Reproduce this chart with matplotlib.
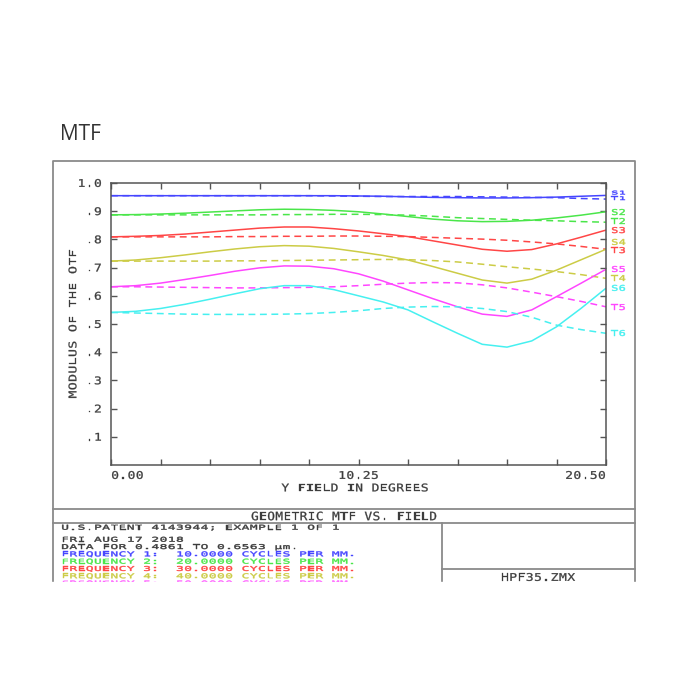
import matplotlib
matplotlib.use('Agg')
import matplotlib.pyplot as plt
from matplotlib.textpath import TextPath
from matplotlib.patches import PathPatch
from matplotlib.font_manager import FontProperties
from matplotlib.transforms import Affine2D

# field points (degrees)
field = [0.0, 1.025, 2.05, 3.075, 4.1, 5.125, 6.15, 7.175, 8.2, 9.225, 10.25,
         11.275, 12.3, 13.325, 14.35, 15.375, 16.4, 17.425, 18.45, 19.475, 20.5]

# sagittal (solid) and tangential (dashed) MTF
s1 = [0.955, 0.955, 0.955, 0.955, 0.955, 0.955, 0.955, 0.955, 0.955, 0.955, 0.954,
      0.953, 0.951, 0.949, 0.948, 0.947, 0.947, 0.948, 0.950, 0.953, 0.956]
t1 = [0.955, 0.955, 0.955, 0.955, 0.955, 0.955, 0.955, 0.955, 0.955, 0.954, 0.953,
      0.952, 0.952, 0.952, 0.952, 0.951, 0.950, 0.949, 0.948, 0.945, 0.943]
s2 = [0.887, 0.888, 0.890, 0.893, 0.897, 0.901, 0.905, 0.907, 0.906, 0.903, 0.898,
      0.890, 0.881, 0.872, 0.866, 0.863, 0.864, 0.868, 0.876, 0.886, 0.898]
t2 = [0.887, 0.887, 0.887, 0.887, 0.887, 0.887, 0.887, 0.888, 0.888, 0.889, 0.889,
      0.888, 0.886, 0.882, 0.877, 0.874, 0.871, 0.868, 0.866, 0.863, 0.861]
s3 = [0.809, 0.811, 0.814, 0.819, 0.826, 0.833, 0.840, 0.844, 0.844, 0.838, 0.830,
      0.820, 0.810, 0.795, 0.780, 0.765, 0.758, 0.764, 0.784, 0.808, 0.833]
t3 = [0.809, 0.809, 0.809, 0.809, 0.809, 0.810, 0.810, 0.811, 0.811, 0.812, 0.812,
      0.811, 0.810, 0.807, 0.804, 0.801, 0.797, 0.791, 0.784, 0.775, 0.765]
s4 = [0.723, 0.727, 0.735, 0.745, 0.756, 0.766, 0.774, 0.778, 0.776, 0.768, 0.756,
      0.743, 0.727, 0.704, 0.680, 0.656, 0.645, 0.659, 0.691, 0.728, 0.765]
t4 = [0.723, 0.723, 0.723, 0.723, 0.723, 0.724, 0.724, 0.725, 0.726, 0.727, 0.728,
      0.729, 0.728, 0.725, 0.720, 0.712, 0.703, 0.695, 0.686, 0.675, 0.662]
s5 = [0.632, 0.636, 0.645, 0.658, 0.672, 0.687, 0.699, 0.706, 0.705, 0.696, 0.678,
      0.652, 0.621, 0.590, 0.561, 0.535, 0.527, 0.550, 0.597, 0.645, 0.694]
t5 = [0.632, 0.632, 0.631, 0.630, 0.629, 0.628, 0.628, 0.629, 0.630, 0.632, 0.636,
      0.641, 0.645, 0.647, 0.646, 0.639, 0.628, 0.613, 0.597, 0.580, 0.561]
s6 = [0.541, 0.545, 0.555, 0.570, 0.588, 0.607, 0.625, 0.636, 0.636, 0.622, 0.600,
      0.578, 0.550, 0.508, 0.467, 0.428, 0.418, 0.440, 0.490, 0.556, 0.627]
t6 = [0.541, 0.539, 0.537, 0.535, 0.534, 0.534, 0.534, 0.535, 0.537, 0.541, 0.547,
      0.555, 0.560, 0.562, 0.561, 0.555, 0.544, 0.524, 0.496, 0.480, 0.467]

sag = [s1, s2, s3, s4, s5, s6]
tan = [t1, t2, t3, t4, t5, t6]
colors = ['#4646ff', '#4ae64a', '#ff4646', '#cccc46', '#ff46ff', '#46f0f0']

end_labels = ['S1', 'T1', 'S2', 'T2', 'S3', 'S4', 'T3', 'S5', 'T4', 'S6', 'T5', 'T6']
end_label_y = [0.966, 0.946, 0.897, 0.865, 0.833, 0.791, 0.762, 0.695, 0.663, 0.628, 0.560, 0.468]
end_label_col = [0, 0, 1, 1, 2, 3, 2, 4, 3, 5, 4, 5]

yticks = [0.1, 0.2, 0.3, 0.4, 0.5, 0.6, 0.7, 0.8, 0.9, 1.0]
ytick_labels = ['.1', '.2', '.3', '.4', '.5', '.6', '.7', '.8', '.9', '1.0']
xticks = [0.0, 10.25, 20.5]
xtick_labels = ['0.00', '10.25', '20.50']

info_head = 'U.S.PATENT 4143944; EXAMPLE 1 OF 1'
info_lines = ['FRI AUG 17 2018',
              'DATA FOR 0.4861 TO 0.6563 µm.',
              'FREQUENCY 1:  10.0000 CYCLES PER MM.',
              'FREQUENCY 2:  20.0000 CYCLES PER MM.',
              'FREQUENCY 3:  30.0000 CYCLES PER MM.',
              'FREQUENCY 4:  40.0000 CYCLES PER MM.',
              'FREQUENCY 5:  50.0000 CYCLES PER MM.']
info_colors = ['#3c3c3c', '#3c3c3c'] + colors[:5]

W = 700
fig = plt.figure(figsize=(7, 7), dpi=100)
fig.patch.set_facecolor('white')

# background axes in image pixel coords (y down)
bg = fig.add_axes([0, 0, 1, 1])
bg.set_xlim(0, W)
bg.set_ylim(W, 0)
bg.axis('off')

TXT = '#3c3c3c'
FRAME = '#8a8a8a'
FP = FontProperties(family='DejaVu Sans Mono')
ADV = 0.602   # advance of DejaVu Sans Mono, em
CAP = 0.729   # cap height, em


def mono(x, y, s, pitch=8.26, cap=7.7, color=TXT, ha='left', rot=0, z=3, stroke=0.2):
    # plotter-like text: every glyph stretched into a fixed cell
    n = len(s)
    if ha == 'center':
        off = -n * pitch / 2
    elif ha == 'right':
        off = -n * pitch
    else:
        off = 0
    for i, ch in enumerate(s):
        if ch == ' ':
            continue
        tp = TextPath((0, 0), ch, size=1, prop=FP)
        d = off + (i + 0.5) * pitch
        tr = (Affine2D().translate(-ADV / 2, -CAP / 2)
              .scale(pitch / ADV * 0.95, cap / CAP).rotate_deg(rot).scale(1, -1))
        if rot == 0:
            tr = tr.translate(x + d, y)
        else:
            tr = tr.translate(x, y - d)
        bg.add_patch(PathPatch(tr.transform_path(tp), facecolor=color, edgecolor=color,
                               lw=stroke, zorder=z))


def to_px(ax, xv, yv):
    px, py = ax.transData.transform((xv, yv))
    return px, W - py


# page title
bg.text(60, 140, 'MTF', fontsize=15, family='Open Sans', color='#333333', va='baseline')

# outer frame and bottom panel
lw = 1.3
bg.plot([53, 53, 634.5, 634.5], [590, 161, 161, 590], color=FRAME, lw=lw)
bg.plot([53, 634.5], [509, 509], color=FRAME, lw=lw)
bg.plot([53, 634.5], [523, 523], color=FRAME, lw=lw)
bg.plot([441.5, 441.5], [523, 590], color=FRAME, lw=lw)
bg.plot([441.5, 634.5], [569, 569], color=FRAME, lw=lw)

mono(344, 516, 'GEOMETRIC MTF VS. FIELD', pitch=8.1, cap=8.4, ha='center')
mono(538, 577, 'HPF35.ZMX', pitch=8.3, cap=7.7, ha='center')
mono(61, 527.2, info_head, pitch=8.2, cap=4.8, stroke=0.3)
for k, line in enumerate(info_lines):
    mono(61, 539.3 + k * 7.3, line, pitch=8.2, cap=4.8, color=info_colors[k], stroke=0.3)

# crop like the screenshot
bg.add_patch(plt.Rectangle((0, 582), W, 120, color='white', zorder=10))

# plot area
ax = fig.add_axes([111 / W, 1 - 465 / W, 495 / W, 282 / W])
for i in range(6):
    ax.plot(field, sag[i], color=colors[i], lw=1.1, solid_capstyle='butt')
    ax.plot(field, tan[i], color=colors[i], lw=1.1, dashes=(4.5, 3))
ax.set_xlim(0, 20.5)
ax.set_ylim(0, 1.0)
ax.set_xticks([k * 2.05 for k in range(11)])
ax.set_yticks(yticks)
ax.tick_params(direction='in', length=4.5, width=1, color='#555555', top=True, right=True,
               labelbottom=False, labelleft=False)
for sp in ax.spines.values():
    sp.set_color('#555555')
    sp.set_linewidth(1.1)

# axis texts
for v, lab in zip(yticks, ytick_labels):
    px, py = to_px(ax, 0, v)
    mono(px - 9, py, lab, pitch=8.2, ha='right')
for v, lab, al in zip(xticks, xtick_labels, ['left', 'center', 'right']):
    px, py = to_px(ax, v, 0)
    mono(px, py + 10, lab, pitch=8.2, ha=al)

mono(355, 487.5, 'Y FIELD IN DEGREES', pitch=8.2, ha='center')
mono(72.5, 324, 'MODULUS OF THE OTF', pitch=8.3, ha='center', rot=90)

for lab, v, c in zip(end_labels, end_label_y, end_label_col):
    px, py = to_px(ax, 20.5, v)
    h = 3.6 if lab in ('S1', 'T1') else 5.8
    mono(px + 5, py, lab, pitch=7.5, cap=h, color=colors[c], stroke=0.3)

fig.savefig('out.png', dpi=100, facecolor='white')
